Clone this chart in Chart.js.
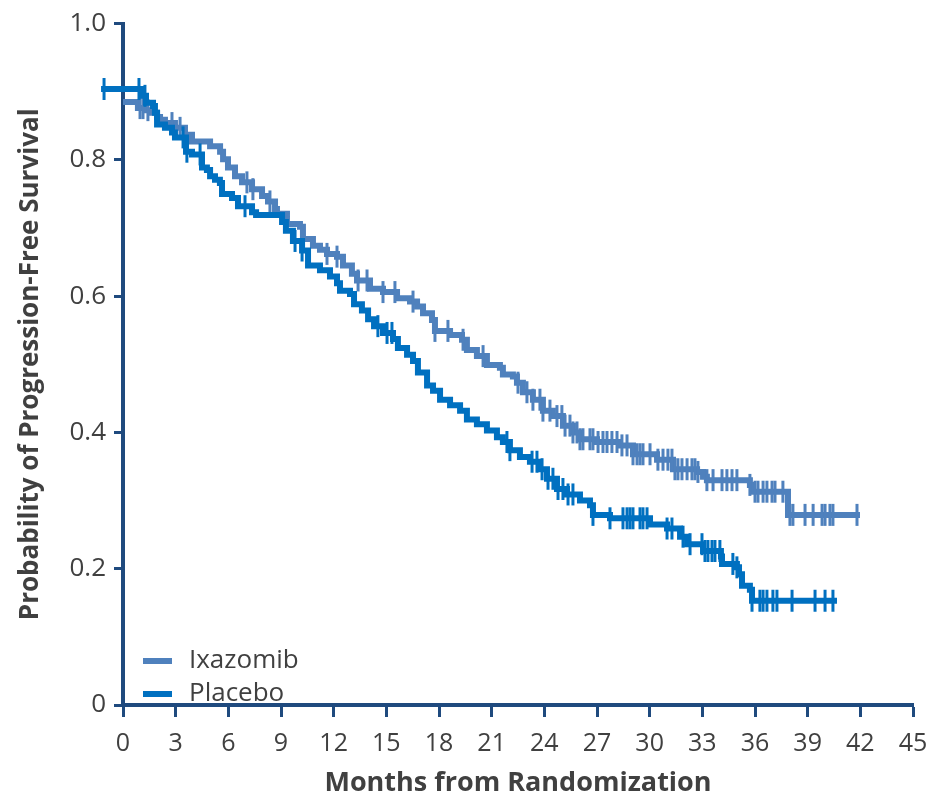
<!DOCTYPE html>
<html>
<head>
<meta charset="utf-8">
<script src="https://cdn.jsdelivr.net/npm/chart.js@4.4.1/dist/chart.umd.min.js"></script>
<style>
html,body{margin:0;padding:0;background:#ffffff;}
#wrap{width:948px;height:800px;position:relative;}
</style>
</head>
<body>
<div id="wrap"><canvas id="c" width="948" height="800"></canvas></div>
<script>
// ---------- data ----------
const seriesNames = ['Ixazomib', 'Placebo'];
const xTickValues = [0, 3, 6, 9, 12, 15, 18, 21, 24, 27, 30, 33, 36, 39, 42, 45];
const yTickValues = [0, 0.2, 0.4, 0.6, 0.8, 1.0];

// Kaplan-Meier steps: at month m the survival becomes s
const ixaMonths = [0, 0.85, 1.25, 1.65, 1.94, 2.11, 2.39, 2.96, 3.53, 3.93, 4.96, 5.53, 5.70, 5.98, 6.38, 6.78, 7.35, 7.92, 8.26, 8.66, 8.77, 9.34, 10.08, 10.25, 10.82, 11.22, 11.62, 12.19, 12.53, 13.04, 13.33, 14.07, 14.81, 15.61, 16.35, 16.75, 17.09, 17.60, 17.77, 18.63, 19.31, 19.59, 20.16, 20.73, 21.47, 21.64, 22.21, 22.44, 22.78, 23.35, 23.92, 24.49, 25.06, 25.63, 26.03, 27.00, 28.31, 29.05, 30.42, 31.33, 32.70, 33.04, 33.26, 35.71, 35.88, 37.88, 41.98];
const ixaSurv   = [0.885, 0.876, 0.873, 0.869, 0.863, 0.859, 0.854, 0.847, 0.837, 0.827, 0.820, 0.812, 0.801, 0.789, 0.776, 0.767, 0.757, 0.747, 0.739, 0.728, 0.721, 0.706, 0.702, 0.684, 0.674, 0.668, 0.662, 0.658, 0.645, 0.633, 0.623, 0.611, 0.606, 0.597, 0.592, 0.585, 0.575, 0.565, 0.549, 0.543, 0.536, 0.521, 0.512, 0.499, 0.495, 0.485, 0.482, 0.473, 0.459, 0.448, 0.432, 0.424, 0.410, 0.400, 0.390, 0.386, 0.381, 0.368, 0.360, 0.346, 0.342, 0.335, 0.330, 0.323, 0.313, 0.279, 0.279];

const plaMonths = [-1.25, 1.03, 1.31, 1.71, 1.82, 1.94, 2.39, 2.79, 2.96, 3.59, 3.93, 4.50, 4.78, 4.96, 5.24, 5.52, 5.64, 6.21, 6.55, 7.35, 7.58, 9.06, 9.28, 9.68, 10.20, 10.54, 11.22, 11.79, 12.19, 12.36, 12.93, 13.16, 13.61, 13.96, 14.30, 14.81, 15.38, 15.66, 16.18, 16.52, 16.80, 17.32, 17.66, 18.06, 18.63, 19.20, 19.59, 20.16, 20.73, 21.30, 21.64, 22.04, 22.61, 23.18, 23.75, 24.15, 24.72, 25.29, 26.03, 26.60, 26.77, 27.74, 30.02, 30.99, 31.73, 32.13, 33.04, 34.06, 34.12, 34.97, 35.09, 35.26, 35.71, 35.83, 40.67];
const plaSurv   = [0.904, 0.894, 0.884, 0.879, 0.869, 0.852, 0.847, 0.840, 0.833, 0.812, 0.808, 0.789, 0.785, 0.776, 0.771, 0.766, 0.750, 0.744, 0.732, 0.723, 0.719, 0.709, 0.696, 0.681, 0.667, 0.645, 0.638, 0.629, 0.619, 0.608, 0.603, 0.588, 0.579, 0.566, 0.556, 0.546, 0.537, 0.524, 0.514, 0.505, 0.488, 0.469, 0.461, 0.448, 0.440, 0.432, 0.419, 0.412, 0.403, 0.393, 0.386, 0.374, 0.364, 0.357, 0.346, 0.332, 0.317, 0.309, 0.300, 0.293, 0.279, 0.274, 0.265, 0.259, 0.247, 0.236, 0.226, 0.218, 0.207, 0.202, 0.192, 0.175, 0.169, 0.153, 0.153];

// censored observations (months)
const ixaCensor = [0.97, 1.14, 1.42, 2.79, 3.25, 7.06, 7.40, 8.37, 11.62, 12.19, 13.39, 13.90, 14.81, 15.49, 16.52, 17.77, 18.51, 19.37, 20.51, 22.50, 23.01, 23.35, 23.75, 23.92, 24.32, 24.72, 25.00, 25.18, 25.46, 25.63, 25.86, 26.03, 26.20, 26.60, 26.77, 27.06, 27.34, 27.57, 27.85, 28.14, 28.42, 28.71, 29.05, 29.28, 29.45, 29.62, 30.02, 30.47, 30.76, 31.04, 31.27, 31.44, 31.61, 31.84, 32.13, 32.41, 32.58, 32.75, 33.26, 33.61, 34.12, 34.40, 34.69, 34.97, 35.71, 36.00, 36.17, 36.46, 36.68, 36.97, 37.14, 37.59, 37.99, 38.16, 38.85, 39.31, 39.82, 39.99, 40.27, 40.44, 41.81];
const plaCensor = [-1.08, 0.91, 1.25, 3.42, 3.64, 4.39, 6.95, 9.80, 10.20, 14.52, 15.04, 15.32, 21.87, 22.04, 23.30, 23.58, 23.87, 24.21, 24.49, 24.78, 25.06, 25.35, 25.63, 26.77, 27.74, 28.48, 28.71, 28.88, 29.05, 29.45, 29.62, 29.85, 30.99, 31.27, 31.90, 32.30, 32.98, 33.15, 33.32, 33.55, 33.72, 34.00, 34.74, 34.97, 35.83, 36.28, 36.46, 36.68, 37.02, 37.25, 38.11, 39.42, 39.99, 40.44];

// ---------- styles ----------
const colIxa = '#4F81BD';
const colPla = '#0070C0';
const axisCol = '#1F4A7E';
const textCol = '#404040';
const censorRadius = 11;
const censorWidth = 3;

function survAt(months, surv, t) {
  let v = surv[0];
  for (let i = 0; i < months.length; i++) { if (months[i] <= t) v = surv[i]; }
  return v;
}
const toPts = (ms, ss) => ms.map((m, i) => ({x: m, y: ss[i]}));
const censorPts = (cs, ms, ss) => cs.map(t => ({x: t, y: survAt(ms, ss, t)}));

const legendPlugin = {
  id: 'kmLegend',
  beforeDraw(chart) {
    const ctx = chart.ctx;
    const items = [
      {label: seriesNames[0], color: colIxa, y: 661},
      {label: seriesNames[1], color: colPla, y: 694}
    ];
    ctx.save();
    ctx.font = '26px "Open Sans"';
    ctx.textBaseline = 'middle';
    ctx.textAlign = 'left';
    items.forEach(it => {
      ctx.fillStyle = it.color;
      ctx.fillRect(143, it.y - 3, 29, 6);
      ctx.fillStyle = textCol;
      ctx.fillText(it.label, 189, it.y);
    });
    ctx.restore();
  }
};

// Chart.js skips points lying outside the chart area; draw such censor marks at the library-computed positions
const outsideCensorPlugin = {
  id: 'outsideCensor',
  afterDatasetsDraw(chart) {
    const ctx = chart.ctx;
    const area = chart.chartArea;
    chart.data.datasets.forEach((ds, i) => {
      if (!ds.isCensor) return;
      const meta = chart.getDatasetMeta(i);
      meta.data.forEach(el => {
        if (el.x < area.left - (censorRadius + censorWidth)) {
          ctx.save();
          ctx.strokeStyle = ds.borderColor;
          ctx.lineWidth = censorWidth;
          ctx.beginPath();
          ctx.moveTo(el.x, el.y - censorRadius);
          ctx.lineTo(el.x, el.y + censorRadius);
          ctx.stroke();
          ctx.restore();
        }
      });
    });
  }
};

const lineCommon = {
  stepped: 'before',
  borderWidth: 6,
  pointRadius: 0,
  fill: false,
  clip: false
};
const censorCommon = {
  isCensor: true,
  showLine: false,
  pointStyle: 'line',
  rotation: 90,
  pointRadius: censorRadius,
  pointHoverRadius: censorRadius,
  borderWidth: censorWidth,
  clip: false
};

new Chart(document.getElementById('c'), {
  type: 'line',
  data: {
    datasets: [
      Object.assign({label: seriesNames[0], data: toPts(ixaMonths, ixaSurv), borderColor: colIxa, order: 4}, lineCommon),
      Object.assign({label: seriesNames[0] + ' censored', data: censorPts(ixaCensor, ixaMonths, ixaSurv), borderColor: colIxa, backgroundColor: colIxa, order: 3}, censorCommon),
      Object.assign({label: seriesNames[1], data: toPts(plaMonths, plaSurv), borderColor: colPla, order: 2}, lineCommon),
      Object.assign({label: seriesNames[1] + ' censored', data: censorPts(plaCensor, plaMonths, plaSurv), borderColor: colPla, backgroundColor: colPla, order: 1}, censorCommon)
    ]
  },
  options: {
    responsive: false,
    animation: false,
    events: [],
    layout: {padding: {left: 15, top: 18, right: 35, bottom: 0}},
    plugins: {legend: {display: false}, tooltip: {enabled: false}},
    scales: {
      x: {
        type: 'linear',
        min: 0, max: 45,
        afterBuildTicks: s => { s.ticks = xTickValues.map(v => ({value: v})); },
        afterFit: s => { s.height = 95; },
        border: {display: true, color: axisCol, width: 4},
        grid: {display: true, drawOnChartArea: false, drawTicks: true, tickLength: 12, tickWidth: 3, color: axisCol, tickColor: axisCol},
        ticks: {color: textCol, font: {family: 'Open Sans', size: 25}, padding: 12, maxRotation: 0, autoSkip: false, callback: v => String(v)},
        title: {display: true, text: 'Months from Randomization', color: textCol, font: {family: 'Open Sans', size: 27, weight: 'bold'}, padding: 0}
      },
      y: {
        type: 'linear',
        min: 0, max: 1,
        afterBuildTicks: s => { s.ticks = yTickValues.map(v => ({value: v})); },
        afterFit: s => { s.width = 108; },
        border: {display: true, color: axisCol, width: 4},
        grid: {display: true, drawOnChartArea: false, drawTicks: true, tickLength: 9, tickWidth: 3, color: axisCol, tickColor: axisCol},
        ticks: {color: textCol, font: {family: 'Open Sans', size: 26}, padding: 8, autoSkip: false, callback: v => (v === 0 ? '0' : Number(v).toFixed(1))},
        title: {display: true, text: 'Probability of Progression-Free Survival', color: textCol, font: {family: 'Open Sans', size: 26, weight: 'bold'}, padding: 0}
      }
    }
  },
  plugins: [legendPlugin, outsideCensorPlugin]
});
</script>
</body>
</html>
